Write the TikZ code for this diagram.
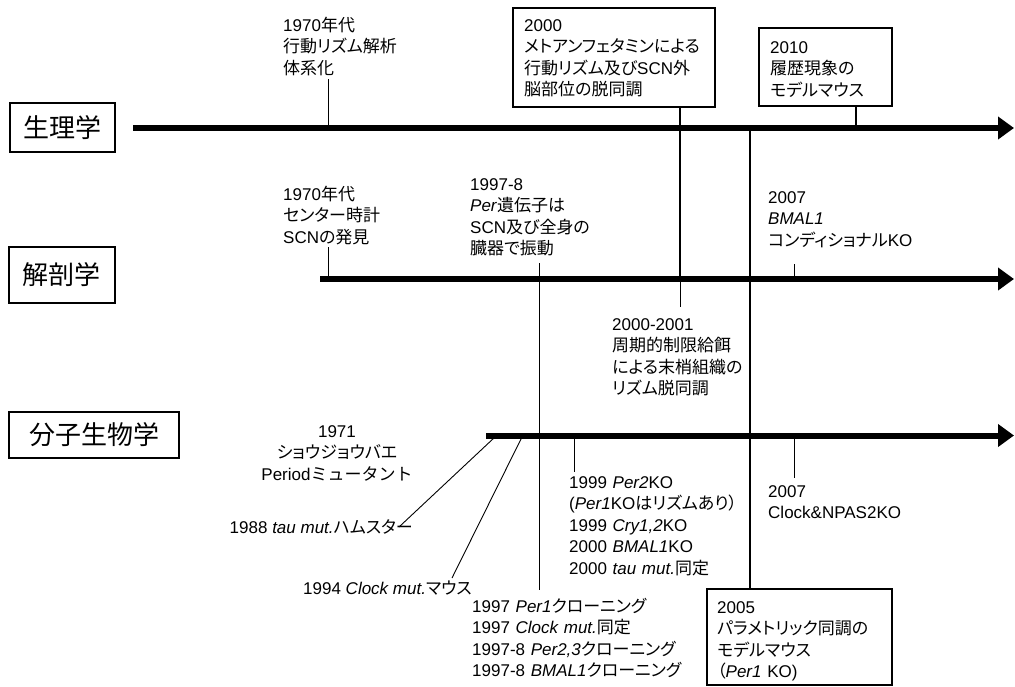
\documentclass[tikz,border=0pt]{standalone}
\usepackage{fontspec}
\setmainfont{Liberation Sans}
\newfontfamily\jpf{Noto Sans CJK JP}[RawFeature=+palt]
\newfontfamily\jpw{Noto Sans CJK JP}
\newcommand\J[1]{{\jpf #1}}
\newcommand\W[1]{{\jpw #1}}
\newcommand\I[1]{\textit{#1}}
\usetikzlibrary{arrows.meta}
\begin{document}
\begin{tikzpicture}[x=1pt,y=-1pt,
  axis/.style={line width=6pt,-{Triangle[length=16pt,width=22pt]}},
  thickline/.style={line width=2.5pt},
  tick/.style={line width=0.9pt},
  ebox/.style={draw,line width=2.5pt,inner sep=0pt},
  lab/.style={draw,line width=2pt,inner sep=0pt,font=\jpw\fontsize{26}{30}\selectfont},
  txt/.style={inner sep=0pt,anchor=base west,text width=260pt,align=left,font=\fontsize{17}{21.6}\selectfont},
  ctxt/.style={inner sep=0pt,anchor=base,text width=260pt,align=center,font=\fontsize{17}{21.6}\selectfont},
  line1/.style={inner sep=0pt,font=\fontsize{17}{21.6}\selectfont},
]
\useasboundingbox (0,0) rectangle (1015,686);

% discipline labels
\node[lab,minimum width=105pt,minimum height=49pt] (Lphys) at (62.5,127.5) {生理学};
\node[lab,minimum width=106pt,minimum height=56pt] (Lanat) at (62,275) {解剖学};
\node[lab,minimum width=170pt,minimum height=46pt] (Lmol) at (94,435) {分子生物学};

% axes
\coordinate (P0) at (133,128);   \coordinate (P1) at (1014,128);
\coordinate (A0) at (320,279);   \coordinate (A1) at (1014,279);
\coordinate (M0) at (486,435.5); \coordinate (M1) at (1014,435.5);

% event boxes
\node[ebox,minimum width=202pt,minimum height=99pt] (B2000) at (614,57.5) {};
\node[ebox,minimum width=133pt,minimum height=78pt] (B2010) at (825.5,67) {};
\node[ebox,minimum width=185pt,minimum height=96pt] (B2005) at (799.5,637) {};

% texts
\node[txt] (T2000) at (524,31) {2000\\\J{メトアンフェタミンによる}\\\J{行動リズム及び}SCN\J{外}\\\J{脳部位の脱同調}};
\node[txt] (T2010) at (770,53) {2010\\\J{履歴現象の}\\\J{モデルマウス}};
\node[txt] (T2005) at (717,613) {2005\\\J{パラメトリック同調の}\\\J{モデルマウス}\\\J{（}\I{Per1} KO)};
\node[txt] (Tp1970) at (283,31) {1970\J{年代}\\\J{行動リズム解析}\\\J{体系化}};
\node[txt] (Ta1970) at (283,200) {1970\J{年代}\\\J{センター時計}\\SCN\J{の発見}};
\node[txt] (T1997a) at (470,190) {1997-8\\\I{Per}\J{遺伝子は}\\SCN\J{及び全身の}\\\J{臓器で振動}};
\node[txt] (T2007a) at (768,203) {2007\\\I{BMAL1}\\\J{コンディショナル}KO};
\node[txt] (T20001) at (612,330) {2000-2001\\\J{周期的制限給餌}\\\J{による末梢組織の}\\\J{リズム脱同調}};
\node[ctxt] (T1971) at (337,437) {1971\\\J{ショウジョウバエ}\\Period\W{ミュータント}};
\node[line1,anchor=base east] (T1988) at (413,533) {1988 \I{tau mut.}\J{ハムスター}};
\node[line1,anchor=base west] (T1994) at (303,594) {1994 \I{Clock mut.}\J{マウス}};
\node[txt] (T1997b) at (472,612) {1997 \I{Per1}\J{クローニング}\\1997 \I{Clock mut.}\J{同定}\\1997-8 \I{Per2,3}\J{クローニング}\\1997-8 \I{BMAL1}\J{クローニング}};
\node[txt] (T1999) at (569,488) {1999 \I{Per2}KO\\(\I{Per1}KO\J{はリズムあり）}\\1999 \I{Cry1,2}KO\\2000 \I{BMAL1}KO\\2000 \I{tau mut.}\J{同定}};
\node[txt] (T2007b) at (768,497) {2007\\Clock\&NPAS2KO};

% connector coordinates
\coordinate (a2000) at (680,279);
\coordinate (e2000) at (680,307);
\coordinate (a2010) at (856,128);
\coordinate (a750) at (750,128);
\coordinate (sp1970) at (328,79);  \coordinate (ap1970) at (328,128);
\coordinate (sa1970) at (328,247); \coordinate (aa1970) at (328,279);
\coordinate (s1997) at (539,263);  \coordinate (e1997) at (539,590);
\coordinate (s2007a) at (794,264); \coordinate (a2007a) at (794,279);
\coordinate (m1988) at (495,437);  \coordinate (e1988) at (399,527);
\coordinate (m1994) at (522,437);  \coordinate (e1994) at (452,578);
\coordinate (m1999) at (574,437);  \coordinate (e1999) at (574,472);
\coordinate (m2007) at (794,437);  \coordinate (e2007) at (794,478);

% connectors
\draw[thickline] (B2000.south -| a2000) -- (a2000);
\draw[tick] (a2000) -- (e2000);
\draw[thickline] (B2010.south -| a2010) -- (a2010);
\draw[thickline] (a750) -- (B2005.north -| a750);
\draw[tick] (sp1970) -- (ap1970);
\draw[tick] (sa1970) -- (aa1970);
\draw[tick] (s1997) -- (e1997);
\draw[tick] (s2007a) -- (a2007a);
\draw[tick] (m1988) -- (e1988);
\draw[tick] (m1994) -- (e1994);
\draw[tick] (m1999) -- (e1999);
\draw[tick] (m2007) -- (e2007);

\draw[axis] (P0) -- (P1);
\draw[axis] (A0) -- (A1);
\draw[axis] (M0) -- (M1);
\end{tikzpicture}
\end{document}
